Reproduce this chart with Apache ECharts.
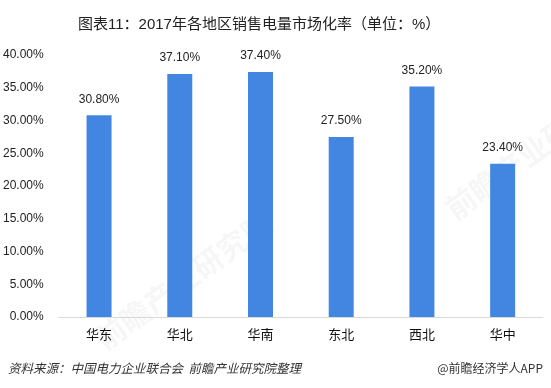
<!DOCTYPE html>
<html><head><meta charset="utf-8">
<script src="https://cdn.jsdelivr.net/npm/echarts@6/dist/echarts.min.js"></script>
<style>html,body{margin:0;padding:0;background:#fff}#c{width:551px;height:388px}</style>
</head><body><div id="c"></div>
<script>
const categories = ['华东','华北','华南','东北','西北','华中'];
const values = [30.8, 37.1, 37.4, 27.5, 35.2, 23.4];
const titleText = '图表11：2017年各地区销售电量市场化率（单位：%）';
const sourceText = '资料来源：中国电力企业联合会  前瞻产业研究院整理';
const brandText = '@前瞻经济学人APP';
const FF = "'Liberation Sans','Noto Sans CJK SC',sans-serif";
const chart = echarts.init(document.getElementById('c'));
chart.setOption({
  animation:false,
  title:{text:titleText,left:73,top:12,textStyle:{fontSize:15,fontWeight:'normal',color:'#222',fontFamily:FF}},
  grid:{left:57,right:8,top:55,bottom:71},
  xAxis:{type:'category',data:categories,
    axisLine:{lineStyle:{color:'#d9d9d9'}},axisTick:{show:false},
    axisLabel:{color:'#111',fontSize:13,margin:12,fontFamily:FF}},
  yAxis:{type:'value',min:0,max:40,interval:5,
    axisLine:{show:false},axisTick:{show:false},splitLine:{show:false},
    axisLabel:{color:'#222',fontSize:12,margin:15,fontFamily:FF,formatter:v=>v.toFixed(2)+'%'}},
  series:[{type:'bar',data:values,barWidth:25,itemStyle:{color:'#4286E1'},
    label:{show:true,position:'top',distance:10,color:'#222',fontSize:12,fontFamily:FF,formatter:p=>p.value.toFixed(2)+'%'}}],
  graphic:[
    {type:'text',left:8,top:362,style:{text:sourceText,fill:'#333',font:"italic 12.5px 'Noto Sans CJK SC',sans-serif"}},
    {type:'text',right:8,top:362,style:{text:brandText,fill:'#333',font:"12px 'Noto Sans CJK SC',sans-serif"}},
    {type:'text',x:90,y:330,rotation:Math.PI/5,style:{text:'前瞻产业研究院',fill:'rgba(0,0,0,0.035)',font:"bold 30px 'Noto Sans CJK SC',sans-serif"}},
    {type:'text',x:440,y:200,rotation:Math.PI/5,style:{text:'前瞻产业研究院',fill:'rgba(0,0,0,0.035)',font:"bold 30px 'Noto Sans CJK SC',sans-serif"}}
  ]
});
</script></body></html>
